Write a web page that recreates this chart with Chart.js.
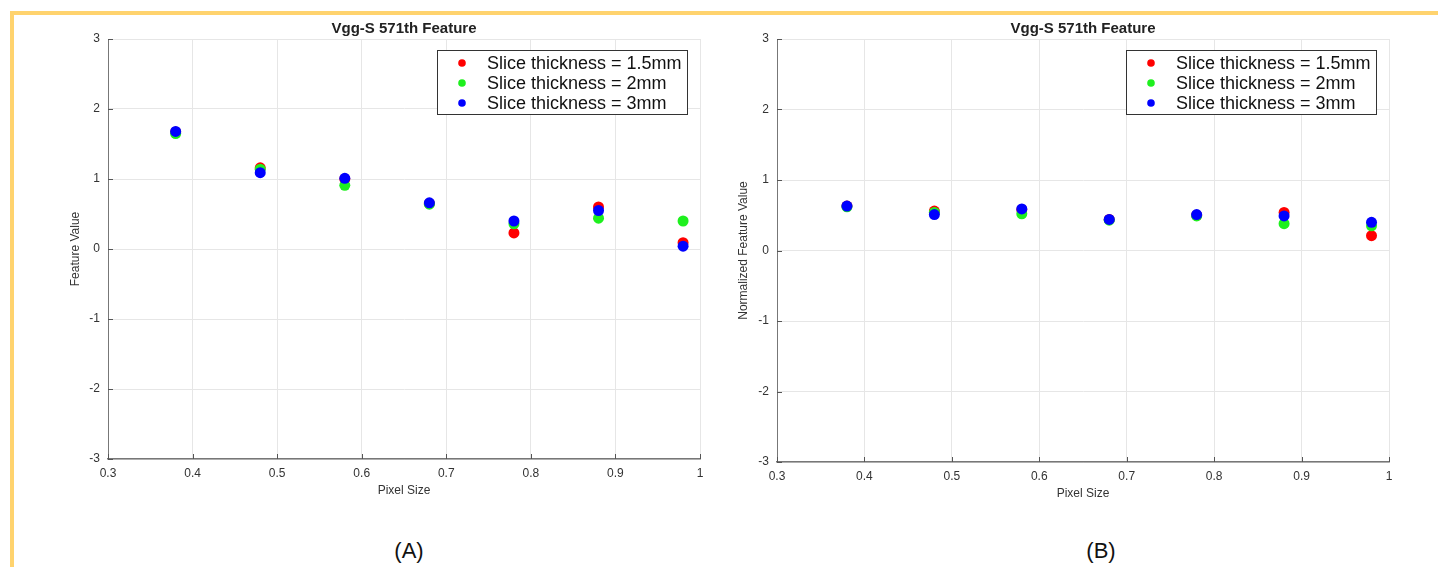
<!DOCTYPE html>
<html>
<head>
<meta charset="utf-8">
<script src="https://cdn.jsdelivr.net/npm/chart.js@4.4.0/dist/chart.umd.min.js"></script>
<style>
  body { margin: 0; background: #fff; width: 1438px; height: 567px; overflow: hidden; position: relative; }
  canvas { position: absolute; top: 0; }
  #chartA { left: 0; }
  #chartB { left: 719px; }
  .frame-top { position: absolute; left: 10px; top: 11px; width: 1428px; height: 4px; background: #ffd36e; }
  .frame-left { position: absolute; left: 10px; top: 11px; width: 4px; height: 556px; background: #ffd36e; }
  .panel-tag { position: absolute; top: 538px; transform: translateX(-50%); color: #111;
               font: 22px 'Liberation Sans Narrow', 'Liberation Sans', Arial, sans-serif; }
</style>
</head>
<body>
<canvas id="chartA" width="719" height="510"></canvas>
<canvas id="chartB" width="719" height="510"></canvas>
<div class="frame-top"></div>
<div class="frame-left"></div>
<div class="panel-tag" style="left:409px">(A)</div>
<div class="panel-tag" style="left:1101px">(B)</div>
<script>
// --- DATA ---
const pixelSizes = [0.38, 0.48, 0.58, 0.68, 0.78, 0.88, 0.98];

// panel A: raw feature value
const featA_15mm = [1.67, 1.16, 1.00, 0.65, 0.23, 0.60, 0.09];
const featA_2mm  = [1.65, 1.14, 0.91, 0.64, 0.36, 0.44, 0.40];
const featA_3mm  = [1.68, 1.09, 1.01, 0.66, 0.40, 0.55, 0.04];

// panel B: normalized feature value
const featB_15mm = [0.63, 0.56, 0.58, 0.44, 0.50, 0.54, 0.21];
const featB_2mm  = [0.62, 0.54, 0.52, 0.43, 0.49, 0.38, 0.35];
const featB_3mm  = [0.63, 0.51, 0.59, 0.44, 0.51, 0.49, 0.40];

const xTickValues = [0.3, 0.4, 0.5, 0.6, 0.7, 0.8, 0.9, 1];
const yTickValues = [-3, -2, -1, 0, 1, 2, 3];
const seriesLabels = ["Slice thickness = 1.5mm", "Slice thickness = 2mm", "Slice thickness = 3mm"];
const seriesColors = ["#ff0000", "#1ef01e", "#0000ff"];
const panelTitle = "Vgg-S 571th Feature";

const narrowFont = "'Liberation Sans Narrow', 'Liberation Sans', Arial, sans-serif";

// --- TITLE, LEGEND BOX AND INWARD TICKS ---
const panelDecor = {
  id: "panelDecor",
  afterDraw(chart, args, opts) {
    const ctx = chart.ctx;
    const area = chart.chartArea;
    const xs = chart.scales.x, ys = chart.scales.y;
    ctx.save();

    ctx.strokeStyle = "#555";
    ctx.lineWidth = 1;
    ctx.beginPath();
    xTickValues.forEach(v => {
      const px = Math.round(xs.getPixelForValue(v)) + 0.5;
      ctx.moveTo(px, area.bottom);
      ctx.lineTo(px, area.bottom - 5);
    });
    yTickValues.forEach(v => {
      const py = Math.round(ys.getPixelForValue(v)) + 0.5;
      ctx.moveTo(area.left, py);
      ctx.lineTo(area.left + 5, py);
    });
    ctx.stroke();

    ctx.fillStyle = "#222";
    ctx.font = "bold 15px 'Liberation Sans', Arial, sans-serif";
    ctx.textAlign = "center";
    ctx.textBaseline = "middle";
    ctx.fillText(opts.title, (area.left + area.right) / 2, 29);

    ctx.font = "18px 'Liberation Sans', Arial, sans-serif";
    const sets = [...chart.data.datasets].sort((a, b) => b.order - a.order);
    const textW = Math.max(...sets.map(d => ctx.measureText(d.label).width));
    const w = Math.round(textW + 55), h = 64;
    const bx = Math.round(area.right - 13 - w), by = Math.round(area.top + 11);
    ctx.fillStyle = "#fff";
    ctx.fillRect(bx, by, w, h);
    ctx.strokeStyle = "#333";
    ctx.strokeRect(bx + 0.5, by + 0.5, w, h);
    sets.forEach((d, i) => {
      const ry = by + 13 + i * 20;
      ctx.fillStyle = d.backgroundColor;
      ctx.beginPath();
      ctx.arc(bx + 25, ry, 3.8, 0, Math.PI * 2);
      ctx.fill();
      ctx.fillStyle = "#111";
      ctx.textAlign = "left";
      ctx.fillText(d.label, bx + 50, ry + 1);
    });
    ctx.restore();
  }
};

function makePanel(canvasId, yTitle, series, pad, yWidth, xHeight) {
  const datasets = series.map((vals, i) => ({
    label: seriesLabels[i],
    data: pixelSizes.map((x, j) => ({ x: x, y: vals[j] })),
    backgroundColor: seriesColors[i],
    borderWidth: 0,
    pointRadius: 5.5,
    pointHoverRadius: 5.5,
    order: series.length - i   // blue (3mm) drawn last, on top
  }));

  return new Chart(document.getElementById(canvasId), {
    type: "scatter",
    data: { datasets: datasets },
    plugins: [panelDecor],
    options: {
      responsive: false,
      animation: false,
      devicePixelRatio: 1,
      events: [],
      layout: { padding: pad },
      plugins: {
        legend: { display: false },
        tooltip: { enabled: false },
        panelDecor: { title: panelTitle }
      },
      scales: {
        x: {
          type: "linear", min: 0.3, max: 1,
          afterBuildTicks: s => { s.ticks = xTickValues.map(v => ({ value: v })); },
          afterFit: s => { s.height = xHeight; s.paddingLeft = 0; s.paddingRight = 0; },
          grid: { color: "#e6e6e6", drawTicks: false },
          border: { color: "#777", width: 1.5 },
          ticks: { padding: 7, color: "#333", maxRotation: 0, autoSkip: false,
                   font: { family: narrowFont, size: 12 }, callback: v => String(v) },
          title: { display: true, text: "Pixel Size", color: "#333", padding: 0,
                   font: { family: narrowFont, size: 12 } }
        },
        y: {
          type: "linear", min: -3, max: 3,
          afterBuildTicks: s => { s.ticks = yTickValues.map(v => ({ value: v })); },
          afterFit: s => { s.width = yWidth; s.paddingTop = 0; s.paddingBottom = 0; },
          grid: { color: "#e6e6e6", drawTicks: false },
          border: { color: "#777", width: 1 },
          ticks: { padding: 8, color: "#333", font: { family: narrowFont, size: 12 },
                   callback: v => String(v) },
          title: { display: true, text: yTitle, color: "#333", padding: 0,
                   font: { family: "'Liberation Sans', Arial, sans-serif", size: 12 } }
        }
      }
    }
  });
}

// --- PANELS ---
makePanel("chartA", "Feature Value", [featA_15mm, featA_2mm, featA_3mm],
  { left: 68, top: 39, right: 19, bottom: 12 }, 40, 39);
makePanel("chartB", "Normalized Feature Value", [featB_15mm, featB_2mm, featB_3mm],
  { left: 17, top: 39, right: 49, bottom: 9 }, 41, 39);
</script>
</body>
</html>
